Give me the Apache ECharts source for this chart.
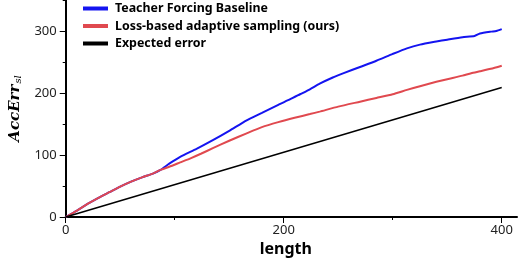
<!DOCTYPE html>
<html>
<head>
    <meta charset="UTF-8">
    <title>AccErr chart</title>
    <script src="https://cdn.jsdelivr.net/npm/echarts@6/dist/echarts.min.js"></script>
    <style>
        html, body { margin: 0; padding: 0; background: #fff; }
        #main { width: 523px; height: 264px; }
    </style>
</head>
<body>
<div id="main"></div>
<script>
    // values: [length, AccErr]
    var baseline = [[0, 0], [10, 10], [20, 21], [30, 31], [40, 40], [50, 49], [60, 57], [70, 64], [80, 70], [87, 76],
        [95, 86], [105, 97], [120, 110], [135, 124], [150, 139], [166, 156], [180, 168], [195, 181], [206, 190],
        [215, 198], [224, 206], [233, 215], [245, 225], [255, 232], [270, 242], [285, 252], [300, 263], [313, 272],
        [325, 278], [340, 283], [350, 286], [364, 290], [375, 292], [380, 296], [390, 299], [395, 300], [400, 303]];
    var adaptive = [[0, 0], [10, 10], [20, 21], [30, 31], [40, 40], [50, 49], [60, 57], [70, 64], [80, 70], [87, 76],
        [95, 81], [105, 88], [115, 95], [124, 102], [135, 111], [150, 123], [166, 135], [180, 145], [195, 153],
        [210, 160], [224, 166], [233, 170], [250, 178], [270, 186], [285, 192], [300, 198], [313, 205], [325, 211],
        [340, 218], [352, 223], [364, 228], [372, 232], [380, 235], [390, 239], [400, 244]];
    var expected = [[0, 0], [400, 209]];

    var xMajor = [0, 200, 400];
    var xMinor = [100, 300];
    var yMajor = [0, 100, 200, 300];
    var yMinor = [50, 150, 250, 350];

    var font = 'Noto Sans';
    var myChart = echarts.init(document.getElementById('main'));

    function axisBase(min, max) {
        return {
            type: 'value', min: min, max: max,
            splitLine: {show: false},
            axisLine: {show: true, lineStyle: {color: '#000', width: 2}}
        };
    }

    var xMain = axisBase(0, 414);
    xMain.position = 'bottom';
    xMain.name = 'length';
    xMain.nameLocation = 'middle';
    xMain.nameGap = 23;
    xMain.nameTextStyle = {fontFamily: font, fontWeight: 'bold', fontSize: 16, color: '#000', padding: [0, 11, 0, 0]};
    xMain.axisTick = {show: true, length: 6, customValues: xMajor, lineStyle: {color: '#000', width: 1}};
    xMain.axisLabel = {customValues: xMajor, fontFamily: font, fontSize: 13, color: '#222', margin: 7};

    var xSub = axisBase(0, 414);
    xSub.position = 'bottom';
    xSub.axisLine = {show: false};
    xSub.axisTick = {show: true, length: 3, customValues: xMinor, lineStyle: {color: '#000', width: 1}};
    xSub.axisLabel = {show: false};

    var yMain = axisBase(0, 350);
    yMain.position = 'left';
    yMain.name = '{a|AccErr}{s|sl}';
    yMain.nameLocation = 'middle';
    yMain.nameGap = 31;
    yMain.nameTextStyle = {
        rich: {
            a: {fontFamily: 'DejaVu Serif', fontStyle: 'italic', fontWeight: 'bold', fontSize: 15, color: '#000'},
            s: {fontFamily: 'DejaVu Serif', fontStyle: 'italic', fontSize: 10, color: '#000', padding: [6, 0, 0, 1]}
        }
    };
    yMain.axisTick = {show: true, length: 6, customValues: yMajor, lineStyle: {color: '#000', width: 1}};
    yMain.axisLabel = {customValues: yMajor, fontFamily: font, fontSize: 13, color: '#222', margin: 9};

    var ySub = axisBase(0, 350);
    ySub.position = 'left';
    ySub.axisLine = {show: false};
    ySub.axisTick = {show: true, length: 3, customValues: yMinor, lineStyle: {color: '#000', width: 1}};
    ySub.axisLabel = {show: false};

    option = {
        animation: false,
        grid: {left: 65, right: 6, top: 0, bottom: 47},
        legend: {
            orient: 'vertical',
            left: 78, top: -3,
            itemWidth: 25, itemHeight: 4, itemGap: 4.5,
            icon: 'rect',
            textStyle: {fontFamily: font, fontWeight: 'bold', fontSize: 12.4, color: '#000', lineHeight: 13, padding: [0, 0, 0, 2]},
            data: ['Teacher Forcing Baseline', 'Loss-based adaptive sampling (ours)', 'Expected error']
        },
        xAxis: [xMain, xSub],
        yAxis: [yMain, ySub],
        series: [
            {
                name: 'Teacher Forcing Baseline', type: 'line', showSymbol: false, smooth: 0.2,
                lineStyle: {color: '#1414f0', width: 2}, itemStyle: {color: '#1414f0'},
                data: baseline
            },
            {
                name: 'Loss-based adaptive sampling (ours)', type: 'line', showSymbol: false, smooth: 0.2,
                lineStyle: {color: '#e0494f', width: 2}, itemStyle: {color: '#e0494f'},
                data: adaptive
            },
            {
                name: 'Expected error', type: 'line', showSymbol: false,
                lineStyle: {color: '#000', width: 1.5}, itemStyle: {color: '#000'},
                data: expected
            }
        ]
    };
    myChart.setOption(option);
</script>
</body>
</html>
